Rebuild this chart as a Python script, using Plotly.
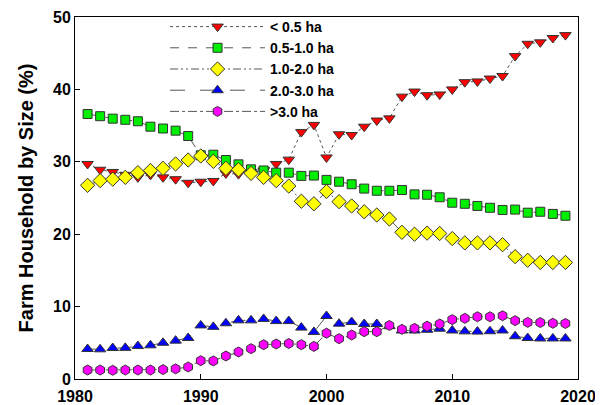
import plotly.graph_objects as go

years = list(range(1981, 2020))

lt_0_5 = [29.7, 28.9, 28.6, 28.2, 27.85, 28.2, 27.85, 27.6, 27.1, 27.25,
          27.35, 28.4, 28.3, 28.5, 28.8, 29.7, 30.3, 34.1, 35.1, 30.6,
          33.8, 33.7, 34.85, 35.7, 36.0, 39.0, 39.7, 39.2, 39.3, 40.0,
          41.0, 41.1, 41.5, 41.85, 44.6, 46.3, 46.5, 47.1, 47.5]

r0_5_1_0 = [36.6, 36.3, 35.96, 35.8, 35.6, 34.85, 34.6, 34.3, 33.56, 30.9,
            30.98, 30.25, 29.65, 28.96, 28.8, 28.5, 28.5, 28.05, 28.1, 27.5,
            27.25, 26.9, 26.3, 26.0, 26.0, 26.1, 25.5, 25.45, 25.1, 24.35,
            24.2, 23.9, 23.65, 23.35, 23.4, 22.97, 23.1, 22.8, 22.55]

r1_0_2_0 = [26.75, 27.4, 27.6, 27.85, 28.5, 28.8, 29.1, 29.7, 30.25, 30.8,
            30.06, 29.1, 28.9, 28.4, 27.85, 27.4, 26.65, 24.55, 24.2, 25.9,
            24.5, 23.9, 23.1, 22.65, 22.1, 20.26, 20.0, 20.15, 20.1, 19.4,
            18.8, 18.8, 18.8, 18.55, 16.9, 16.4, 16.1, 16.1, 16.1]

r2_0_3_0 = [4.14, 4.1, 4.28, 4.3, 4.55, 4.65, 5.0, 5.3, 5.66, 7.4,
            7.2, 7.7, 8.1, 8.1, 8.3, 8.0, 8.0, 7.1, 6.5, 8.7,
            7.64, 7.87, 7.6, 7.6, 7.3, 6.7, 6.7, 6.8, 6.95, 6.7,
            6.58, 6.55, 6.6, 6.7, 5.9, 5.66, 5.6, 5.6, 5.6]

gt_3_0 = [1.24, 1.24, 1.2, 1.24, 1.24, 1.24, 1.3, 1.4, 1.66, 2.53,
          2.5, 3.18, 3.73, 4.19, 4.74, 4.83, 4.9, 4.74, 4.5, 6.33,
          5.57, 6.08, 6.54, 6.54, 7.4, 6.86, 7.0, 7.3, 7.6, 8.2,
          8.38, 8.6, 8.6, 8.74, 8.06, 7.82, 7.8, 7.7, 7.67]

series = [
    ("< 0.5 ha", lt_0_5, "triangle-down", "#FF0000", "dot", 10),
    ("0.5-1.0 ha", r0_5_1_0, "square", "#00EE00", "dash", 9),
    ("1.0-2.0 ha", r1_0_2_0, "diamond", "#FFFF00", "8px,3px,2px,3px,2px,3px", 11),
    ("2.0-3.0 ha", r2_0_3_0, "triangle-up", "#0000FF", "longdash", 10),
    (">3.0 ha", gt_3_0, "hexagon", "#FF00FF", "dashdot", 10),
]

fig = go.Figure()
for name, vals, sym, col, dash, size in series:
    fig.add_trace(go.Scatter(
        x=years, y=vals, name=name, mode="lines+markers",
        line=dict(color="#555555", width=1, dash=dash),
        marker=dict(symbol=sym, color=col, size=size,
                    line=dict(color="#333333", width=1)),
    ))

axis_font = dict(family="Arial", size=16, color="black", weight="bold")
# the page body has an 8px margin, so the figure is made 8px smaller
fig.update_layout(
    width=595, height=397,
    margin=dict(l=67, r=25, t=9, b=26, autoexpand=False),
    paper_bgcolor="white", plot_bgcolor="white",
    showlegend=True,
    legend=dict(x=0.179, y=1.0166, xanchor="left", yanchor="top",
                bgcolor="rgba(0,0,0,0)",
                font=dict(family="Arial", size=14, color="black", weight="bold"),
                itemwidth=95, tracegroupgap=0),
    xaxis=dict(range=[1980, 2020], dtick=10, tick0=1980,
               showline=True, linecolor="black", linewidth=1, mirror=True,
               ticks="inside", ticklen=5, tickcolor="black",
               showgrid=False, zeroline=False, tickfont=axis_font,
               ticklabelstandoff=3),
    yaxis=dict(range=[0, 50], dtick=10, tick0=0,
               showline=True, linecolor="black", linewidth=1, mirror=True,
               ticks="inside", ticklen=5, tickcolor="black",
               showgrid=False, zeroline=False, tickfont=axis_font,
               title=dict(text="Farm Household by Size (%)",
                          font=dict(family="Arial", size=20, color="black", weight="bold"),
                          standoff=14)),
)

fig.write_html("out.html")
